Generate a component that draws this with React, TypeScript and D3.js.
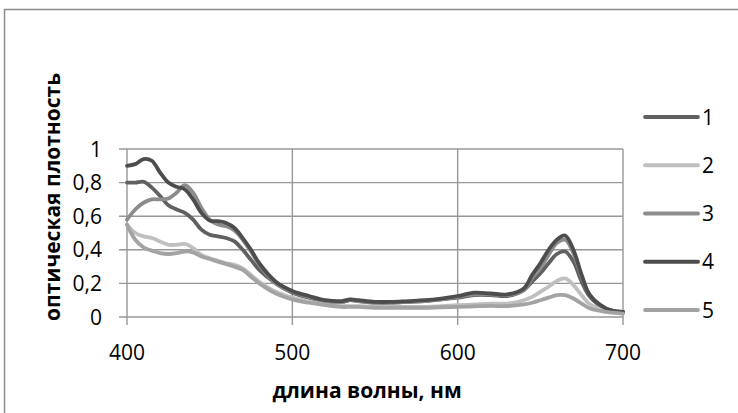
import React, { useEffect, useRef } from 'react';
import * as d3 from 'd3';

// wavelength, nm
const wavelengths = [
  400, 405, 410, 415, 420, 425, 430, 435, 440, 445, 450, 455, 460, 465, 470, 475, 480, 490,
  500, 510, 520, 530, 535, 540, 550, 560, 570, 580, 590, 600, 610, 620, 630, 640, 645, 650,
  655, 660, 665, 670, 675, 680, 690, 700,
];

const series1 = [
  0.80, 0.80, 0.805, 0.77, 0.72, 0.665, 0.64, 0.62, 0.58, 0.52, 0.49, 0.48, 0.47, 0.45, 0.40, 0.34, 0.28, 0.20,
  0.145, 0.115, 0.095, 0.09, 0.10, 0.095, 0.085, 0.085, 0.09, 0.095, 0.105, 0.115, 0.13, 0.13, 0.125, 0.16, 0.21, 0.26,
  0.32, 0.375, 0.39, 0.33, 0.21, 0.12, 0.045, 0.03,
];
const series2 = [
  0.55, 0.50, 0.48, 0.47, 0.45, 0.43, 0.43, 0.435, 0.41, 0.37, 0.35, 0.335, 0.32, 0.31, 0.29, 0.25, 0.21, 0.15,
  0.115, 0.09, 0.075, 0.065, 0.065, 0.065, 0.06, 0.06, 0.06, 0.06, 0.065, 0.07, 0.075, 0.08, 0.08, 0.10, 0.12, 0.15,
  0.18, 0.215, 0.23, 0.19, 0.13, 0.075, 0.035, 0.025,
];
const series3 = [
  0.58, 0.64, 0.68, 0.70, 0.70, 0.705, 0.74, 0.785, 0.74, 0.65, 0.58, 0.55, 0.54, 0.515, 0.46, 0.39, 0.31, 0.20,
  0.15, 0.12, 0.095, 0.09, 0.10, 0.095, 0.085, 0.085, 0.09, 0.095, 0.105, 0.12, 0.135, 0.135, 0.13, 0.16, 0.23, 0.29,
  0.37, 0.44, 0.46, 0.38, 0.24, 0.13, 0.05, 0.03,
];
const series4 = [
  0.90, 0.91, 0.94, 0.93, 0.86, 0.80, 0.775, 0.76, 0.70, 0.62, 0.575, 0.57, 0.56, 0.53, 0.47, 0.40, 0.32, 0.21,
  0.155, 0.125, 0.10, 0.095, 0.105, 0.10, 0.09, 0.09, 0.095, 0.10, 0.11, 0.125, 0.145, 0.14, 0.135, 0.17, 0.25, 0.32,
  0.40, 0.46, 0.485, 0.40, 0.25, 0.13, 0.05, 0.03,
];
const series5 = [
  0.55, 0.46, 0.415, 0.395, 0.38, 0.375, 0.38, 0.39, 0.385, 0.36, 0.345, 0.33, 0.315, 0.30, 0.28, 0.24, 0.20, 0.14,
  0.105, 0.085, 0.07, 0.06, 0.06, 0.06, 0.055, 0.055, 0.055, 0.055, 0.058, 0.06, 0.063, 0.066, 0.065, 0.075, 0.085, 0.10,
  0.115, 0.13, 0.13, 0.11, 0.08, 0.05, 0.03, 0.02,
];

const seriesNames = ['1', '2', '3', '4', '5'];
const seriesColors = ['#606060', '#bfbfbf', '#8c8c8c', '#4d4d4d', '#a3a3a3'];
const xTicks = [400, 500, 600, 700];
const yTicks = [0, 0.2, 0.4, 0.6, 0.8, 1];

const W = 738;
const H = 413;
const font = '"Open Sans", "Noto Sans", sans-serif';

export default function App() {
  const ref = useRef<SVGSVGElement>(null);

  useEffect(() => {
    const svg = d3.select(ref.current);
    svg.selectAll('*').remove();

    const x = d3.scaleLinear().domain([400, 700]).range([127, 623]);
    const y = d3.scaleLinear().domain([0, 1]).range([317, 149]);
    const gridColor = '#979797';

    // outer frame (only top and left visible)
    svg.append('path')
      .attr('d', `M4.5,${H} L4.5,9.5 L${W},9.5`)
      .attr('fill', 'none')
      .attr('stroke', '#8a8a8a')
      .attr('stroke-width', 1.5);

    // horizontal grid
    svg.append('g')
      .selectAll('line')
      .data(yTicks)
      .join('line')
      .attr('x1', x(400) - 8)
      .attr('x2', x(700))
      .attr('y1', d => y(d))
      .attr('y2', d => y(d))
      .attr('stroke', gridColor)
      .attr('stroke-width', 1.4);

    // vertical grid + ticks
    svg.append('g')
      .selectAll('line')
      .data(xTicks)
      .join('line')
      .attr('x1', d => x(d))
      .attr('x2', d => x(d))
      .attr('y1', y(1))
      .attr('y2', y(0) + 8)
      .attr('stroke', gridColor)
      .attr('stroke-width', 1.4);

    svg.append('g')
      .selectAll('text')
      .data(yTicks)
      .join('text')
      .attr('x', 102)
      .attr('y', d => y(d))
      .attr('dy', '0.36em')
      .attr('text-anchor', 'end')
      .attr('font-family', font)
      .attr('font-size', 21)
      .attr('fill', '#000')
      .text(d => d3.format('.1~f')(d).replace('.', ','));

    svg.append('g')
      .selectAll('text')
      .data(xTicks)
      .join('text')
      .attr('x', d => x(d))
      .attr('y', 352)
      .attr('dy', '0.36em')
      .attr('text-anchor', 'middle')
      .attr('font-family', font)
      .attr('font-size', 21)
      .attr('fill', '#000')
      .text(d => `${d}`);

    svg.append('text')
      .attr('x', 367)
      .attr('y', 390)
      .attr('dy', '0.36em')
      .attr('text-anchor', 'middle')
      .attr('font-family', font)
      .attr('font-size', 21)
      .attr('font-weight', 'bold')
      .attr('fill', '#000')
      .text('длина волны, нм');

    svg.append('text')
      .attr('transform', 'translate(52,197) rotate(-90)')
      .attr('dy', '0.36em')
      .attr('text-anchor', 'middle')
      .attr('font-family', font)
      .attr('font-size', 21)
      .attr('font-weight', 'bold')
      .attr('fill', '#000')
      .text('оптическая плотность');

    const allSeries = [series1, series2, series3, series4, series5];
    const line = d3.line<number>()
      .x((_, i) => x(wavelengths[i]))
      .y(d => y(d))
      .curve(d3.curveCatmullRom.alpha(0.5));

    svg.append('g')
      .selectAll('path')
      .data(allSeries)
      .join('path')
      .attr('d', d => line(d))
      .attr('fill', 'none')
      .attr('stroke', (_, i) => seriesColors[i])
      .attr('stroke-width', 3.8)
      .attr('stroke-linejoin', 'round')
      .attr('stroke-linecap', 'round');

    // legend
    const legendY = d3.scalePoint<string>().domain(seriesNames).range([117, 310]);
    const legend = svg.append('g')
      .selectAll('g')
      .data(seriesNames)
      .join('g')
      .attr('transform', d => `translate(0,${legendY(d)})`);
    legend.append('line')
      .attr('x1', 645)
      .attr('x2', 698)
      .attr('stroke', (_, i) => seriesColors[i])
      .attr('stroke-width', 3.8)
      .attr('stroke-linecap', 'round');
    legend.append('text')
      .attr('x', 702)
      .attr('dy', '0.36em')
      .attr('font-family', font)
      .attr('font-size', 21)
      .attr('fill', '#000')
      .text(d => d);
  }, []);

  return (
    <svg
      ref={ref}
      width={W}
      height={H}
      style={{ position: 'absolute', left: 0, top: 0, background: '#fff' }}
    />
  );
}
